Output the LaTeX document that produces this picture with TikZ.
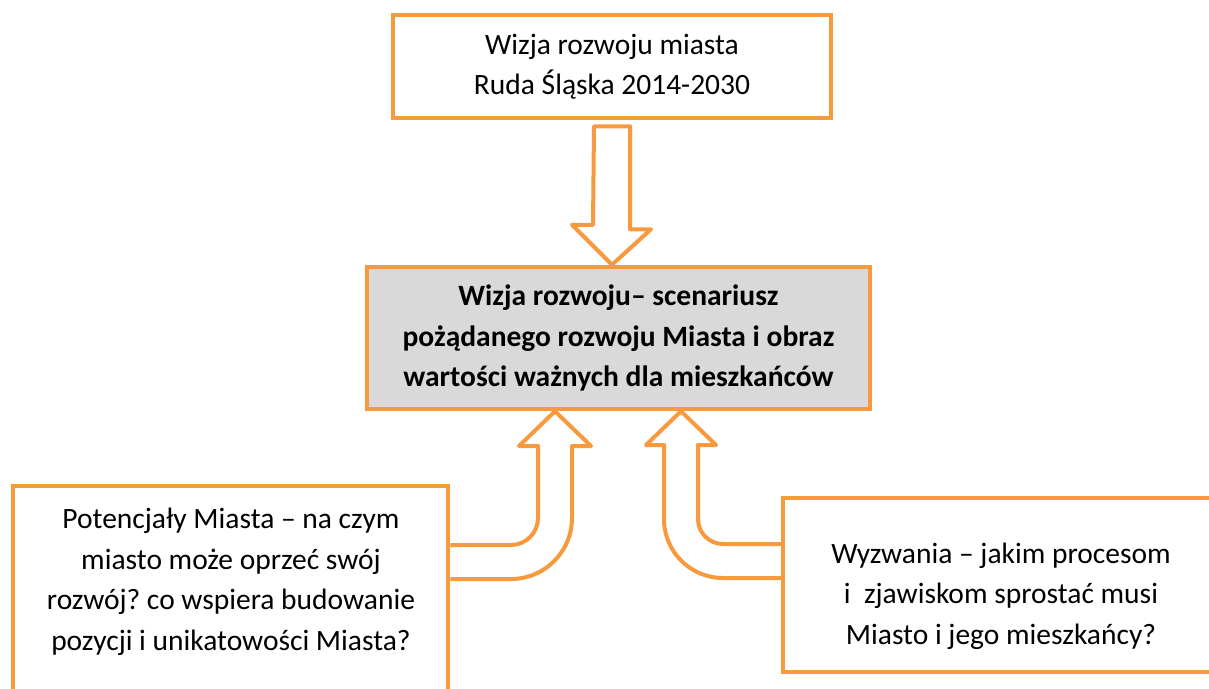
\documentclass[tikz,border=0pt]{standalone}
\usepackage{fontspec}
\setmainfont{Carlito}
\frenchspacing
\usetikzlibrary{calc}
\definecolor{orng}{HTML}{F79A3E}
\definecolor{midgray}{HTML}{D9D9D9}
\begin{document}
\begin{tikzpicture}[x=1pt,y=-1pt,
  box/.style={draw=orng, line width=4.5pt, rectangle, inner sep=0pt, align=center},
  txt/.style={font=\fontsize{29.5}{40.5}\selectfont, align=center},
  blockarrow/.style={draw=orng, line width=4pt, line join=round}]
\clip (0,0) rectangle (1209,688);
\fill[white] (0,0) rectangle (1209,688);

\node[box, txt, minimum width=438pt, minimum height=103pt] (top) at (612,66.5)
  {Wizja rozwoju miasta\\Ruda Śląska 2014-2030};
\node[box, txt, fill=midgray, font=\fontsize{29.5}{40.5}\selectfont\bfseries,
  minimum width=503pt, minimum height=142pt] (mid) at (618.5,338)
  {Wizja rozwoju– scenariusz\\pożądanego rozwoju Miasta i obraz\\wartości ważnych dla mieszkańców};

\node[box, minimum width=435pt, minimum height=224pt] (lbox) at (230.5,598) {};
\node[txt] (ltxt) at (231,582)
  {Potencjały Miasta – na czym\\miasto może oprzeć swój\\rozwój? co wspiera budowanie\\pozycji i unikatowości Miasta?};
\node[box, minimum width=442pt, minimum height=174pt] (rbox) at (1004,585) {};
\node[txt] (rtxt) at (1001,596)
  {Wyzwania – jakim procesom\\i~ zjawiskom sprostać musi\\Miasto i jego mieszkańcy?};

% down block arrow
\draw[blockarrow] ($(top.south)+(-18,6)$) -- ++(36,0) -- ++(0,103) -- ++(21,0)
  -- (top.south |- mid.north) -- ($(top.south |- mid.north)+(-40,-40)$) -- ++(21,0) -- cycle;

% left bent block arrow
\draw[blockarrow] (lbox.east |- 0,545) -- (511,545)
  .. controls (525.9,545) and (538,532.9) .. (538,518) -- (538,446) -- (519,446)
  -- (555,0 |- mid.south) -- (591,446) -- (572,446) -- (572,518)
  .. controls (572,551.7) and (544.7,579) .. (511,579) -- (lbox.east |- 0,579);

% right bent block arrow
\draw[blockarrow] (rbox.west |- 0,544) -- (723,544)
  .. controls (709.2,544) and (698,532.8) .. (698,519) -- (698,445) -- (716,445)
  -- (681,0 |- mid.south) -- (646,445) -- (664,445) -- (664,519)
  .. controls (664,551.6) and (690.4,578) .. (723,578) -- (rbox.west |- 0,578);
\end{tikzpicture}
\end{document}
